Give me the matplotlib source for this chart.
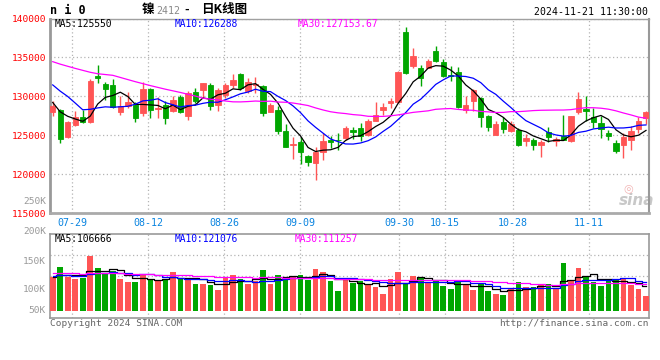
import matplotlib.pyplot as plt
import numpy as np
import pandas as pd

# ni2412 daily K, oldest first (07-24 .. 11-21)
opens = [127930, 128270, 124720, 126260, 127370, 126650, 132630, 131600, 131470, 127930,
         128700, 128910, 127800, 130960, 128310, 128830, 128060, 129940, 127420, 130580,
         130750, 131470, 128910, 130190, 131390, 132890, 130620, 131470, 131350, 127930,
         128270, 125580, 123740, 124170, 122290, 121390, 122800, 124420, 124380, 124600,
         125620, 125920, 125070, 126860, 128190, 129080, 129250, 138310, 133910, 133610,
         133700, 135830, 134470, 132760, 133140, 128270, 129340, 129770, 127500, 124980,
         126650, 125490, 125710, 124210, 124430, 123700, 125370, 124210, 124850, 124210,
         127930, 128360, 127330, 126600, 125280, 124000, 123780, 124340, 125790, 127200]
highs = [129420, 128400, 126800, 128060, 128180, 132200, 134040, 131820, 132240, 129980,
         130580, 129300, 131820, 131130, 129890, 129420, 130060, 130190, 130620, 131130,
         131770, 131690, 131050, 131690, 132840, 133010, 132330, 132420, 131470, 129120,
         128700, 126480, 124810, 124770, 122500, 123440, 125280, 124940, 125280, 126220,
         126010, 126560, 127120, 129210, 129130, 129770, 133190, 138950, 136180, 134040,
         134770, 136480, 134810, 133910, 133830, 129980, 130960, 129850, 127630, 126780,
         127290, 126780, 125920, 125190, 124640, 124340, 126010, 124720, 127630, 127500,
         130580, 129980, 128480, 127420, 125710, 124430, 125280, 126130, 127290, 128060]
lows = [127420, 123950, 124640, 126130, 126560, 126560, 131770, 129470, 128480, 127630,
        128480, 126650, 127420, 127240, 127160, 126390, 127970, 127840, 126990, 129120,
        129770, 128180, 128060, 129770, 131050, 130750, 130410, 130410, 127420, 127930,
        125190, 123440, 121990, 121350, 121010, 119210, 121860, 123360, 123140, 124420,
        124510, 124210, 124850, 126780, 127630, 128490, 129130, 132840, 133700, 131260,
        133610, 134470, 132540, 131990, 128490, 127840, 128060, 126010, 125580, 124980,
        125300, 125370, 123660, 123570, 123140, 122160, 124080, 123660, 124340, 124080,
        127720, 126780, 125920, 124640, 124430, 122720, 122080, 123140, 125280, 126430]
closes = [128700, 124470, 126730, 127370, 126650, 132030, 132290, 130960, 128570, 128780,
          129300, 127160, 130960, 128270, 128440, 127160, 129550, 127970, 130450, 129340,
          131650, 128700, 130830, 131470, 132120, 131130, 131820, 131600, 127800, 128910,
          125490, 123440, 123870, 122800, 121520, 122890, 124300, 124130, 124340, 125960,
          125360, 124850, 126780, 127630, 128660, 129430, 133060, 132970, 135190, 132330,
          134600, 134600, 132670, 132630, 128570, 128830, 130840, 127290, 126010, 126480,
          125830, 126480, 123780, 124640, 123780, 124080, 124720, 124550, 124430, 127420,
          129680, 128060, 126690, 125840, 124850, 123020, 124770, 125490, 126860, 127930]
volumes = [145400, 186700, 145400, 135400, 141100, 235100, 182400, 155300, 169600, 135400,
           122600, 122600, 152500, 136800, 126800, 136800, 166700, 141100, 131100, 115400,
           115400, 109700, 89800, 143900, 152500, 136800, 115400, 126800, 173900, 115400,
           152500, 141100, 148200, 152500, 131100, 178100, 166700, 126800, 84100, 131100,
           119700, 126800, 114000, 101200, 71300, 135400, 165300, 116900, 148200, 143900,
           124000, 126800, 105500, 92600, 131100, 109700, 88400, 114000, 84100, 71300,
           67000, 96900, 122600, 101200, 101200, 109700, 114000, 96900, 203800, 126800,
           182400, 142500, 122600, 106900, 126800, 134000, 134000, 109700, 92600, 62700]

# sessions before the window, only used to seed the moving averages
prev_closes = [134000, 135000, 135500, 134200, 139500, 137900, 134000, 131600, 137000, 137500,
               135300, 138500, 135800, 135400, 134100, 135800, 134300, 137400, 136300, 139800,
               132500, 133600, 135800, 135300, 131400, 130500, 129600, 129100, 128150]
prev_volumes = [168200, 176700, 155300, 186700, 159600, 171000, 149600, 181000, 162500, 169600,
                156800, 173900, 165300, 153900, 178100, 161000, 169600, 148200, 172400, 171000,
                159600, 148200, 163900, 143900, 153900, 136800, 148200, 131100, 151100]

date_labels = ['07-29', '08-12', '08-26', '09-09', '09-30', '10-15', '10-28', '11-11']
date_index = [3, 13, 23, 33, 46, 52, 61, 71]
price_ticks = [115000, 120000, 125000, 130000, 135000, 140000]
vol_labels = ['200K', '150K', '100K', '50K']

RED = '#ff5555'
GREEN = '#00a600'
GRID = '#b4b4b4'
MONO = 'DejaVu Sans Mono'
W, H = 660, 360

n = len(closes)
x = np.arange(n)
o = np.array(opens)
c = np.array(closes)
up = c >= o
colors = np.where(up, RED, GREEN)

close_all = pd.Series(prev_closes + closes, dtype=float)
vol_all = pd.Series(prev_volumes + volumes, dtype=float)
ma_specs = [(5, 'black'), (10, '#0000ff'), (30, '#ff00ff')]

fig = plt.figure(figsize=(6.6, 3.6), dpi=100)

def ftext(px, py, s, **kw):
    kw.setdefault('va', 'center')
    kw.setdefault('family', MONO)
    return fig.text(px / W, 1 - py / H, s, **kw)

ax = fig.add_axes([50 / W, 1 - 213 / H, 599.3 / W, 194.5 / H])
axv = fig.add_axes([50 / W, 1 - 317.7 / H, 599.3 / W, 84 / H])

# sina's date grid is spaced a touch wider than the candles
tick_pos = np.array(date_index) * 1.012 - 0.43

# --- price panel
ax.vlines(x, lows, highs, colors=colors, linewidth=1, zorder=2)
ax.bar(x, np.abs(c - o), bottom=np.minimum(o, c), width=0.72, color=colors,
       edgecolor=colors, linewidth=0.6, zorder=3)
for k, col in ma_specs:
    ma = close_all.rolling(k).mean().to_numpy()[-n:]
    ax.plot(x, ma, color=col, linewidth=0.9, zorder=4)

ax.set_xlim(-0.36, 79.44)
ax.set_ylim(115000, 140000)
ax.set_yticks(price_ticks)
ax.set_yticklabels([str(v) for v in price_ticks], color='#ff0000', family=MONO, fontsize=6.8)
ax.set_xticks(tick_pos)
ax.set_xticklabels(date_labels, color='#0a84e0', family=MONO, fontsize=7.2)
ax.tick_params(axis='both', length=0)
ax.tick_params(axis='y', pad=3)
ax.tick_params(axis='x', pad=3.5)
ax.grid(True, color=GRID, linestyle=(0, (1, 2)), linewidth=0.9)
ax.set_axisbelow(True)
for side, lw, col in [('left', 2, '#999999'), ('bottom', 2, '#aaaaaa'),
                      ('top', 1, '#a0a0a0'), ('right', 1.5, '#999999')]:
    ax.spines[side].set_linewidth(lw)
    ax.spines[side].set_color(col)

ax.text(0.978, 0.062, 'sina', transform=ax.transAxes, ha='center', va='center',
        fontsize=11, style='italic', weight='bold', color='#c8c8c8', zorder=1)
ax.text(0.965, 0.125, '◎', transform=ax.transAxes, ha='center', va='center',
        fontsize=8, color='#f2b4b4', zorder=1)

# --- volume panel
axv.bar(x, volumes, width=0.75, color=colors, zorder=3)
for k, col in ma_specs:
    ma = vol_all.rolling(k).mean().to_numpy()[-n:]
    axv.plot(x, ma, color=col, linewidth=0.9, drawstyle='steps-mid', zorder=4)
axv.set_xlim(-0.36, 79.44)
vlo, vhi = -29925, 329175
axv.set_ylim(vlo, vhi)
axv.set_xticks(tick_pos)
axv.set_xticklabels([])
axv.set_yticks([vlo + f * (vhi - vlo) for f in (0.25, 0.5, 0.75)])
axv.set_yticklabels([])
axv.tick_params(axis='both', length=0)
axv.grid(True, color=GRID, linestyle=(0, (1, 2)), linewidth=0.9)
axv.set_axisbelow(True)
for side in axv.spines:
    axv.spines[side].set_color('#999999')
    axv.spines[side].set_linewidth(1.2)

# --- texts
ftext(50, 11, 'n i 0', weight='bold', fontsize=8.5, ha='left')
ftext(141.5, 10, '镍', family=['Noto Sans CJK SC', 'DejaVu Sans'], fontsize=9, weight='bold', ha='left')
ftext(156.5, 11, '2412', fontsize=7.2, color='#888888', ha='left')
ftext(187, 10, '-', fontsize=8, weight='bold', ha='center')
ftext(201, 10, '日K线图', family=['Noto Sans CJK SC', 'DejaVu Sans'], fontsize=9, weight='bold', ha='left')
ftext(648, 12, '2024-11-21 11:30:00', fontsize=7.1, ha='right')

ftext(55, 24, 'MA5:125550', fontsize=6.9, ha='left')
ftext(175, 24, 'MA10:126288', fontsize=6.9, ha='left', color='#0000ff')
ftext(298, 24, 'MA30:127153.67', fontsize=6.9, ha='left', color='#ff00ff')

ftext(55, 238.5, 'MA5:106666', fontsize=6.9, ha='left')
ftext(175, 238.5, 'MA10:121076', fontsize=6.9, ha='left', color='#0000ff')
ftext(295, 238.5, 'MA30:111257', fontsize=6.9, ha='left', color='#ff00ff')

ftext(46, 201, '250K', fontsize=6.8, ha='right', color='#999999')
for lab, py in zip(vol_labels, [231, 261.5, 290, 310.5]):
    ftext(46, py, lab, fontsize=6.8, ha='right', color='#999999')

ftext(50, 323.5, 'Copyright 2024 SINA.COM', fontsize=6.8, ha='left', color='#666666')
ftext(649, 323.5, 'http://finance.sina.com.cn', fontsize=6.8, ha='right', color='#666666')

fig.savefig('out.png', dpi=100)
